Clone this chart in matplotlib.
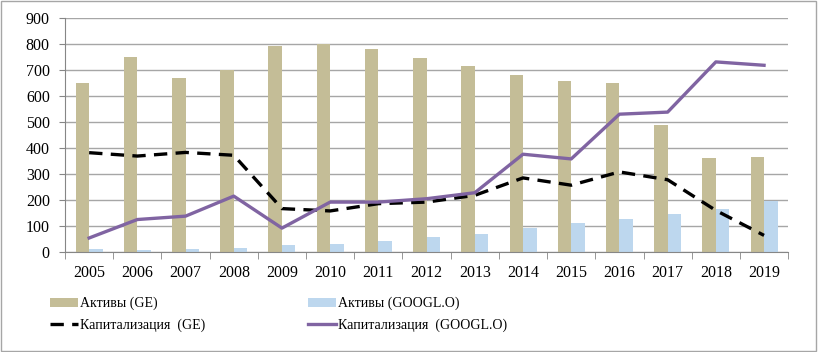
import numpy as np
import matplotlib.pyplot as plt
from matplotlib.patches import Rectangle

plt.rcParams['font.family'] = ['Liberation Serif', 'DejaVu Serif']

years = ['2005', '2006', '2007', '2008', '2009', '2010', '2011', '2012',
         '2013', '2014', '2015', '2016', '2017', '2018', '2019']
assets_ge = [648, 748, 671, 699, 791, 800, 781, 746, 717, 681, 657, 651, 490, 362, 367]
assets_googl = [10, 8, 13, 17, 26, 32, 43, 56, 71, 92, 112, 126, 146, 167, 198]
cap_ge = [382, 369, 383, 372, 167, 158, 186, 192, 218, 285, 257, 308, 278, 160, 64]
cap_googl = [54, 125, 138, 215, 92, 192, 192, 205, 228, 376, 358, 530, 538, 731, 718]

fig = plt.figure(figsize=(8.18, 3.52), dpi=100)
ax = fig.add_axes([0.0795, 0.284, 0.884, 0.665])

x = np.arange(len(years))
w = 0.28
b1 = ax.bar(x - w / 2, assets_ge, w, color='#C4BD97', label='Активы (GE)', zorder=2)
b2 = ax.bar(x + w / 2, assets_googl, w, color='#BDD7EE', label='Активы (GOOGL.O)', zorder=2)
l1, = ax.plot(x, cap_ge, color='black', lw=2.4, dashes=(4, 2.5), label='Капитализация  (GE)', zorder=3)
l2, = ax.plot(x, cap_googl, color='#8064A2', lw=2.4, label='Капитализация  (GOOGL.O)', zorder=3)

ax.set_xlim(-0.5, len(years) - 0.5)
ax.set_ylim(0, 900)
ax.set_yticks(range(0, 901, 100))
ax.set_xticks(x)
ax.set_xticklabels(years)
ax.set_xticks(np.arange(-0.5, len(years), 1), minor=True)
ax.tick_params(axis='x', which='major', length=0, labelsize=11.5, pad=9)
ax.tick_params(axis='x', which='minor', length=5, color='#868686')
ax.tick_params(axis='y', length=4, color='#868686', labelsize=11.5, pad=7)
ax.grid(axis='y', color='#A6A6A6', lw=1, zorder=0)
for s in ['top', 'right']:
    ax.spines[s].set_visible(False)
ax.spines['left'].set_color('#868686')
ax.spines['bottom'].set_color('#868686')

handles = [b1, l1, b2, l2]
fig.legend(handles, [hh.get_label() for hh in handles], ncol=2, frameon=False,
           loc='lower left', bbox_to_anchor=(0.061, 0.058), fontsize=10,
           borderpad=0, borderaxespad=0,
           handlelength=2.0, handletextpad=0.15, columnspacing=7.4, labelspacing=0.55)

fig.patches.append(Rectangle((0.001, 0.002), 0.997, 0.995, transform=fig.transFigure,
                             fill=False, edgecolor='#A6A6A6', lw=1))

fig.savefig('out.png', dpi=100)
